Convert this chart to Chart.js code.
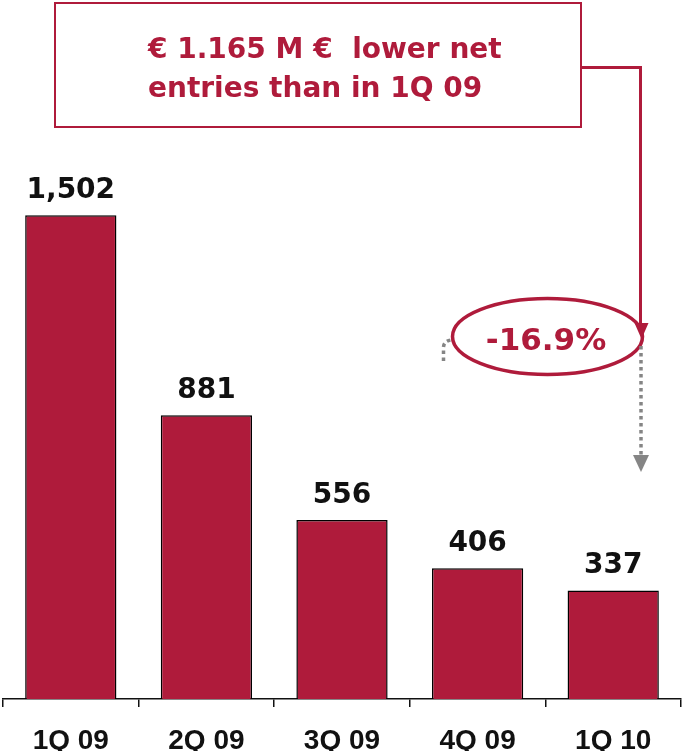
<!DOCTYPE html>
<html>
<head>
<meta charset="utf-8">
<script src="https://cdn.jsdelivr.net/npm/chart.js@4/dist/chart.umd.min.js"></script>
<style>
  html, body { margin: 0; padding: 0; background: #ffffff; }
  canvas { display: block; }
</style>
</head>
<body>
<canvas id="chart" width="682" height="751"></canvas>
<script>
// Quarterly net entries (M €)
const categories = ['1Q 09', '2Q 09', '3Q 09', '4Q 09', '1Q 10'];
const netEntries = [1502, 881, 556, 406, 337];
const valueLabels = ['1,502', '881', '556', '406', '337'];

// Callout texts
const calloutLines = ['€ 1.165 M €  lower net', 'entries than in 1Q 09'];
const changeLabel = '-16.9%';

const CRIMSON = '#AF1B3B';
const GREY = '#858585';

// Value labels above each bar
const valueLabelPlugin = {
  id: 'valueLabels',
  afterDatasetsDraw(chart) {
    const ctx = chart.ctx;
    const meta = chart.getDatasetMeta(0);
    ctx.save();
    ctx.font = 'bold 28px "DejaVu Sans"';
    ctx.fillStyle = '#111111';
    ctx.textAlign = 'center';
    ctx.textBaseline = 'alphabetic';
    meta.data.forEach((bar, i) => {
      ctx.fillText(valueLabels[i], bar.x, bar.y - 17);
    });
    ctx.restore();
  }
};

// Callout box, connector arrow, percentage ellipse and dotted pointers
const calloutPlugin = {
  id: 'callout',
  afterDraw(chart) {
    const ctx = chart.ctx;
    ctx.save();

    // text box
    ctx.strokeStyle = CRIMSON;
    ctx.lineWidth = 2;
    ctx.strokeRect(55, 3, 526, 124);
    ctx.fillStyle = CRIMSON;
    ctx.font = 'bold 28px "DejaVu Sans"';
    ctx.textAlign = 'left';
    ctx.textBaseline = 'alphabetic';
    ctx.fillText(calloutLines[0], 148, 58);
    ctx.fillText(calloutLines[1], 148, 97);

    // ellipse with change percentage
    ctx.lineWidth = 3.5;
    ctx.beginPath();
    ctx.ellipse(547.5, 336.5, 95, 38, 0, 0, Math.PI * 2);
    ctx.stroke();
    ctx.font = 'bold 31px "DejaVu Sans"';
    ctx.textAlign = 'center';
    ctx.fillText(changeLabel, 546, 350);

    // connector from box down to ellipse
    ctx.lineWidth = 3;
    ctx.beginPath();
    ctx.moveTo(581, 67.5);
    ctx.lineTo(640.5, 67.5);
    ctx.lineTo(640.5, 326);
    ctx.stroke();
    ctx.beginPath();
    ctx.moveTo(634.5, 323);
    ctx.lineTo(648.5, 323);
    ctx.lineTo(641.5, 339);
    ctx.closePath();
    ctx.fill();

    // grey dotted pointers
    ctx.strokeStyle = GREY;
    ctx.fillStyle = GREY;
    ctx.lineWidth = 3.5;
    ctx.setLineDash([3.5, 3.5]);
    ctx.beginPath();
    ctx.moveTo(641, 346);
    ctx.lineTo(641, 456);
    ctx.stroke();
    ctx.beginPath();
    ctx.moveTo(443.5, 361);
    ctx.lineTo(443.5, 347);
    ctx.quadraticCurveTo(444, 341, 451, 340);
    ctx.stroke();
    ctx.setLineDash([]);
    ctx.beginPath();
    ctx.moveTo(633, 455);
    ctx.lineTo(649, 455);
    ctx.lineTo(641, 472);
    ctx.closePath();
    ctx.fill();

    ctx.restore();
  }
};

new Chart(document.getElementById('chart'), {
  type: 'bar',
  data: {
    labels: categories,
    datasets: [{
      data: netEntries,
      backgroundColor: CRIMSON,
      borderColor: '#000000',
      borderWidth: 1.5,
      borderSkipped: 'bottom',
      barPercentage: 0.673,
      categoryPercentage: 1.0
    }]
  },
  options: {
    responsive: false,
    animation: false,
    devicePixelRatio: 1,
    layout: { padding: { left: 3, right: 1, top: 0, bottom: 0 } },
    plugins: {
      legend: { display: false },
      tooltip: { enabled: false }
    },
    scales: {
      x: {
        offset: true,
        grid: {
          offset: true,
          drawOnChartArea: false,
          drawTicks: true,
          tickLength: 8,
          color: '#111111',
          lineWidth: 1.5
        },
        border: { display: true, color: '#111111', width: 1.5 },
        ticks: {
          color: '#111111',
          font: { family: '"Liberation Sans"', size: 28, weight: 'bold' },
          padding: 17,
          maxRotation: 0,
          autoSkip: false
        },
        afterFit(scale) { scale.height = 52; }
      },
      y: {
        display: false,
        min: 0,
        max: 2170
      }
    }
  },
  plugins: [valueLabelPlugin, calloutPlugin]
});
</script>
</body>
</html>
